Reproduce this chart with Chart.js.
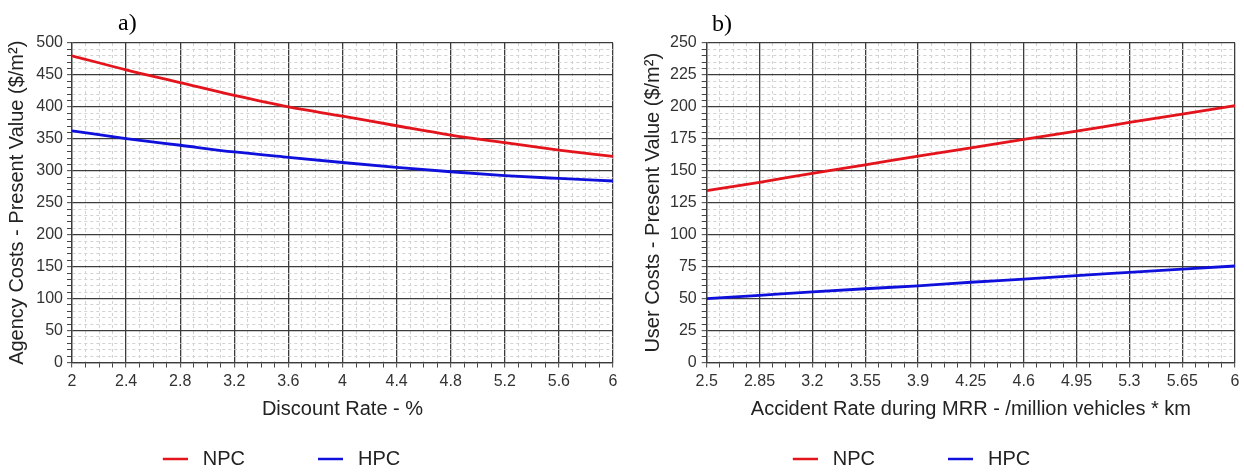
<!DOCTYPE html>
<html><head><meta charset="utf-8">
<script src="https://cdn.jsdelivr.net/npm/chart.js@4/dist/chart.umd.min.js"></script>
<style>
html,body{margin:0;padding:0;background:#fff;overflow:hidden;width:1244px;height:472px}
.wrap{position:absolute;top:0;height:480px}
.lbl{position:absolute;z-index:5;font-family:"Liberation Serif","Times New Roman",serif;font-size:24px;line-height:24px;color:#000}
</style></head><body>
<div class="lbl" style="left:118px;top:10px">a)</div>
<div class="lbl" style="left:712px;top:11px">b)</div>
<div class="wrap" style="left:0;width:622px"><canvas id="cA"></canvas></div>
<div class="wrap" style="left:636px;width:608px"><canvas id="cB"></canvas></div>
<script>
// ---- data ----
const seriesNames = ['NPC', 'HPC'];
const seriesColors = ['#e3141c', '#1010dc'];

// chart a) Discount rate
const xA = [2, 2.4, 2.8, 3.2, 3.6, 4, 4.4, 4.8, 5.2, 5.6, 6];
const npcA = [480, 458, 438, 418, 400, 385.5, 370.5, 356, 344, 332.5, 322.5];
const hpcA = [362.5, 350.5, 340, 329.5, 321, 313, 305.5, 298.5, 292.5, 288, 284];
const xTicksA = ['2', '2.4', '2.8', '3.2', '3.6', '4', '4.4', '4.8', '5.2', '5.6', '6'];
const yTicksA = ['0', '50', '100', '150', '200', '250', '300', '350', '400', '450', '500'];

// chart b) Accident rate
const xB = [2.5, 2.85, 3.2, 3.55, 3.9, 4.25, 4.6, 4.95, 5.3, 5.65, 6];
const npcB = [134.5, 141, 148, 154.7, 161.5, 168, 174.5, 181, 187.8, 194.4, 201];
const hpcB = [50, 52.6, 55.2, 57.7, 60, 62.8, 65.3, 68, 70.5, 73, 75.5];
const xTicksB = ['2.5', '2.85', '3.2', '3.55', '3.9', '4.25', '4.6', '4.95', '5.3', '5.65', '6'];
const yTicksB = ['0', '25', '50', '75', '100', '125', '150', '175', '200', '225', '250'];

Chart.defaults.font.family = '"Liberation Sans", Arial, sans-serif';

const MAJOR = '#3c3c3c', MINOR = '#d2d2d2';

function legendImg(color) {
  const c = document.createElement('canvas');
  c.width = 83; c.height = 6;
  const g = c.getContext('2d');
  g.strokeStyle = color; g.lineWidth = 2.5;
  g.beginPath(); g.moveTo(58, 3); g.lineTo(83, 3); g.stroke();
  return c;
}
const blankImg = (() => { const c = document.createElement('canvas'); c.width = 1; c.height = 1; return c; })();

function gridOpts(every) {
  const isMajor = c => c.type === 'tick' && c.index % every === 0;
  return {
    grid: {
      color: c => isMajor(c) ? MAJOR : MINOR,
      lineWidth: c => isMajor(c) ? 1.3 : 1,
      tickLength: 5,
      tickColor: '#444',
      tickWidth: 1
    },
    border: {
      color: MAJOR, width: 1.3,
      dash: c => (c.type === 'tick' && c.index % every !== 0) ? [3, 3] : []
    }
  };
}

function makeChart(id, cfg) {
  const gx = gridOpts(4), gy = gridOpts(5);
  return new Chart(document.getElementById(id), {
    type: 'line',
    data: {
      datasets: [
        { label: seriesNames[0], data: cfg.x.map((x, i) => ({ x, y: cfg.npc[i] })), borderColor: seriesColors[0] },
        { label: seriesNames[1], data: cfg.x.map((x, i) => ({ x, y: cfg.hpc[i] })), borderColor: seriesColors[1] }
      ].map(d => Object.assign(d, { borderWidth: 2.8, pointRadius: 0, fill: false, cubicInterpolationMode: 'monotone' }))
    },
    options: {
      responsive: true, maintainAspectRatio: false, animation: false, devicePixelRatio: 1, events: [],
      layout: { padding: { top: 43, right: cfg.padRight, bottom: 1, left: 0 } },
      plugins: {
        tooltip: { enabled: false },
        legend: {
          position: 'bottom', align: 'center',
          labels: {
            usePointStyle: true, pointStyleWidth: 93, padding: 10, color: '#222', font: { size: 20 },
            generateLabels: chart => chart.data.datasets.map((d, i) => ({
              text: d.label, datasetIndex: i, pointStyle: legendImg(d.borderColor),
              fillStyle: d.borderColor, strokeStyle: d.borderColor, lineWidth: 0, hidden: false, fontColor: '#222'
            })).concat([{ text: '', pointStyle: blankImg, fillStyle: 'rgba(0,0,0,0)', strokeStyle: 'rgba(0,0,0,0)', lineWidth: 0, hidden: false, fontColor: '#222' }])
          }
        }
      },
      scales: {
        x: {
          type: 'linear', min: cfg.xMin, max: cfg.xMax,
          ticks: { stepSize: cfg.xStep, autoSkip: false, maxRotation: 0, minRotation: 0, padding: 4.5, color: '#333', font: { size: 16 },
            callback: (v, i) => i % 4 === 0 ? cfg.xTicks[i / 4] : '' },
          grid: gx.grid, border: gx.border,
          title: { display: true, text: cfg.xTitle, color: '#222', font: { size: 20 }, padding: { top: 0, bottom: 18 } },
          afterFit: s => { s.height = 76.5; }
        },
        y: {
          type: 'linear', min: 0, max: cfg.yMax,
          ticks: { stepSize: cfg.yStep, autoSkip: false, padding: cfg.yPad, color: '#333', font: { size: 16 },
            callback: (v, i) => i % 5 === 0 ? cfg.yTicks[i / 5] : '' },
          grid: gy.grid, border: gy.border,
          title: { display: true, text: cfg.yTitle, color: '#222', font: { size: 20 }, padding: { top: 5, bottom: 0 } },
          afterFit: s => { s.width = cfg.yWidth; }
        }
      }
    }
  });
}

makeChart('cA', {
  x: xA, npc: npcA, hpc: hpcA, xTicks: xTicksA, yTicks: yTicksA,
  xMin: 2, xMax: 6, xStep: 0.1, yMax: 500, yStep: 10,
  xTitle: 'Discount Rate - %', yTitle: 'Agency Costs - Present Value ($/m²)',
  yWidth: 72, yPad: 4, padRight: 9
});
makeChart('cB', {
  x: xB, npc: npcB, hpc: hpcB, xTicks: xTicksB, yTicks: yTicksB,
  xMin: 2.5, xMax: 6, xStep: 0.0875, yMax: 250, yStep: 5,
  xTitle: 'Accident Rate during MRR - /million vehicles * km', yTitle: 'User Costs - Present Value ($/m²)',
  yWidth: 70.7, yPad: 5, padRight: 7
});
</script>
</body></html>
